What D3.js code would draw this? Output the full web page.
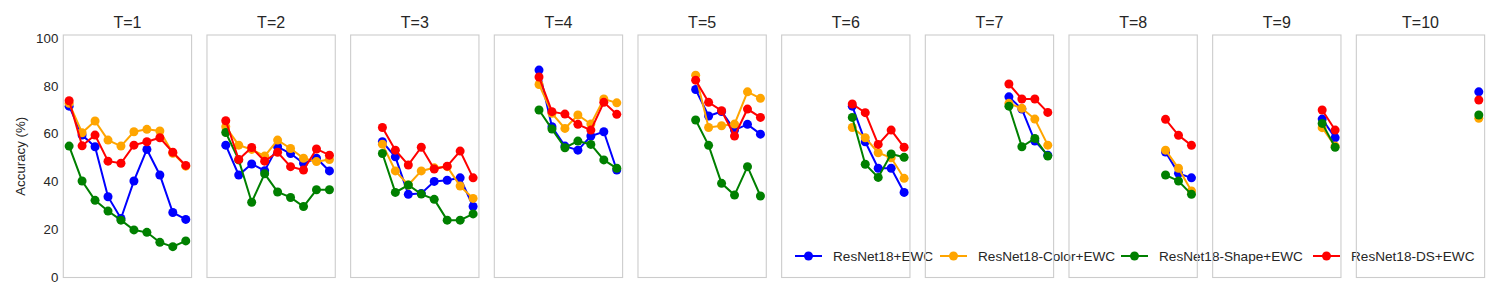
<!DOCTYPE html>
<html><head><meta charset="utf-8">
<script src="https://cdn.jsdelivr.net/npm/d3@7"></script>
<style>body{margin:0;background:#fff;} text{font-family:"Liberation Sans",Arial,sans-serif;fill:#262626;}</style>
</head><body><svg id="chart" width="1500" height="300"></svg>
<script>
// ---- data ----
const panels = ["T=1","T=2","T=3","T=4","T=5","T=6","T=7","T=8","T=9","T=10"];
const tasks = [0,1,2,3,4,5,6,7,8,9];
const yTicks = [0,20,40,60,80,100];
const seriesNames = ["ResNet18+EWC","ResNet18-Color+EWC","ResNet18-Shape+EWC","ResNet18-DS+EWC"];
const seriesColors = ["blue","orange","green","red"];
// accuracy per panel (panel T=k covers tasks k-1..9)
const ewc = [
  [71.5,59.4,54.5,33.6,24.5,40.2,53.4,42.7,27.0,24.1],
  [55.2,42.7,47.3,44.5,54.5,51.7,47.6,49.7,44.4],
  [56.6,50.3,34.6,35.0,40.0,40.5,41.5,29.5],
  [86.6,62.9,54.8,53.1,59.0,60.8,44.8],
  [78.5,67.4,69.3,61.5,63.9,59.8],
  [71.5,56.6,45.5,45.5,35.4],
  [75.4,70.3,56.9,51.0],
  [52.3,43.4,41.5],
  [66.1,58.3],
  [77.5]
];
const colorEwc = [
  [72.7,60.4,65.3,57.3,54.8,60.8,61.8,61.1,51.8,46.4],
  [62.9,55.2,53.4,50.6,57.3,53.8,49.7,48.3,49.2],
  [55.6,44.4,38.5,44.4,45.7,46.2,38.1,32.9],
  [80.6,68.5,62.2,67.8,64.0,74.5,72.9],
  [84.5,62.6,63.3,64.0,77.5,74.8],
  [62.6,58.3,52.0,49.9,41.3],
  [72.7,70.6,66.1,55.2],
  [53.1,45.5,36.0],
  [62.5,54.8],
  [66.4]
];
const shapeEwc = [
  [54.8,40.2,32.1,27.6,23.8,19.7,18.7,14.5,12.7,15.1],
  [60.5,49.0,31.3,43.2,35.6,33.3,29.5,36.5,36.5],
  [51.7,35.4,38.5,34.7,32.5,23.8,23.8,26.4],
  [69.9,61.9,54.1,56.9,55.5,49.0,45.5],
  [65.7,55.1,39.2,34.3,46.2,33.9],
  [66.8,47.2,41.7,51.5,50.1],
  [71.5,54.5,58.0,50.6],
  [42.7,40.2,34.6],
  [64.3,54.3],
  [67.8]
];
const dsEwc = [
  [73.8,54.9,59.4,48.5,47.6,55.2,56.6,58.3,52.2,46.7],
  [65.4,49.2,54.2,48.5,52.2,46.2,44.8,53.6,51.0],
  [62.6,53.1,46.9,54.3,45.2,46.4,52.7,41.5],
  [83.7,69.2,68.2,63.9,61.5,73.1,68.1],
  [82.4,73.1,69.6,59.0,70.3,66.8],
  [72.4,68.8,55.5,61.5,54.3],
  [80.8,74.5,74.5,68.9],
  [66.0,59.3,55.1],
  [69.9,61.5],
  [74.1]
];
const allSeries = [ewc, colorEwc, shapeEwc, dsEwc];

// ---- layout ----
const svg = d3.select("#chart");
const pLeft0 = 63.3, pStep = 143.67, pW = 128.3, pTop = 35, pBot = 277.5;
const y = d3.scaleLinear().domain([0, 101.3]).range([277, 35]);

// legend (drawn first; panel frames drawn over it)
const legX = [795, 940, 1121, 1313], legY = 256;
const leg = svg.append("g");
seriesNames.forEach((n, i) => {
  const g = leg.append("g");
  g.append("line").attr("x1", legX[i]).attr("x2", legX[i] + 27).attr("y1", legY).attr("y2", legY)
    .attr("stroke", seriesColors[i]).attr("stroke-width", 2);
  g.append("circle").attr("cx", legX[i] + 13.5).attr("cy", legY).attr("r", 4.5).attr("fill", seriesColors[i]);
  g.append("text").attr("x", legX[i] + 38).attr("y", legY).attr("dy", "0.35em")
    .style("font-size", "13.6px").text(n);
});

panels.forEach((title, p) => {
  const left = pLeft0 + p * pStep;
  const x = d3.scaleLinear().domain([-0.45, 9.45]).range([left, left + pW]);
  const g = svg.append("g");
  g.append("rect").attr("x", left).attr("y", pTop).attr("width", pW).attr("height", pBot - pTop)
    .attr("fill", "none").attr("stroke", "#cccccc").attr("stroke-width", 1.1);
  g.append("text").attr("x", left + pW / 2).attr("y", 28).attr("text-anchor", "middle")
    .style("font-size", "16px").text(title);
  if (p === 0) {
    const ax = g.append("g").attr("transform", `translate(${left},0)`)
      .call(d3.axisLeft(y).tickValues(yTicks).tickSize(0).tickPadding(5).tickFormat(d3.format("d")));
    ax.select(".domain").remove();
    ax.selectAll("text").style("font-size", "13.3px").style("font-family", "Liberation Sans, Arial, sans-serif").attr("fill", "#262626");
    g.append("text").attr("transform", `translate(25,${(pTop + pBot) / 2}) rotate(-90)`)
      .attr("text-anchor", "middle").style("font-size", "13.3px").text("Accuracy (%)");
  }
  const xs = tasks.slice(p);
  allSeries.forEach((s, si) => {
    const vals = s[p].map((v, k) => [xs[k], v]);
    const line = d3.line().x(d => x(d[0])).y(d => y(d[1]));
    g.append("path").attr("d", line(vals)).attr("fill", "none")
      .attr("stroke", seriesColors[si]).attr("stroke-width", 2);
    g.selectAll(null).data(vals).enter().append("circle")
      .attr("cx", d => x(d[0])).attr("cy", d => y(d[1])).attr("r", 4.5).attr("fill", seriesColors[si]);
  });
});
</script></body></html>
